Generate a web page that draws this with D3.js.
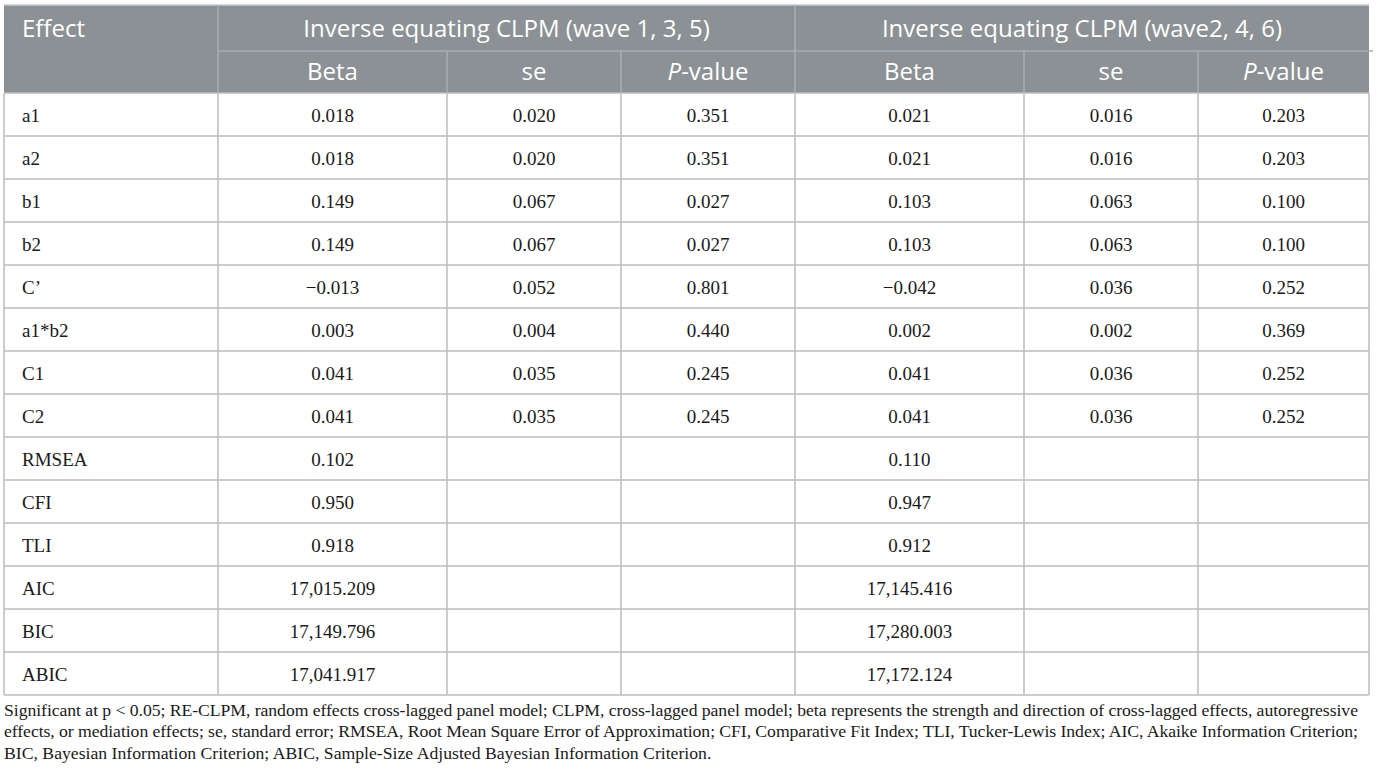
<!DOCTYPE html>
<html>
<head>
<meta charset="utf-8">
<script src="https://cdn.jsdelivr.net/npm/d3@7"></script>
<style>
  html, body { margin: 0; padding: 0; background: #fff; }
  svg { display: block; }
</style>
</head>
<body>
<div id="chart"></div>
<script>
// table content
const effects = ["a1", "a2", "b1", "b2", "C\u2019", "a1*b2", "C1", "C2", "RMSEA", "CFI", "TLI", "AIC", "BIC", "ABIC"];
const groups = ["Inverse equating CLPM (wave 1, 3, 5)", "Inverse equating CLPM (wave2, 4, 6)"];
const subHeaders = ["Beta", "se", "P-value"];
const beta1 = [0.018, 0.018, 0.149, 0.149, -0.013, 0.003, 0.041, 0.041, 0.102, 0.950, 0.918, 17015.209, 17149.796, 17041.917];
const se1 = [0.020, 0.020, 0.067, 0.067, 0.052, 0.004, 0.035, 0.035, null, null, null, null, null, null];
const p1 = [0.351, 0.351, 0.027, 0.027, 0.801, 0.440, 0.245, 0.245, null, null, null, null, null, null];
const beta2 = [0.021, 0.021, 0.103, 0.103, -0.042, 0.002, 0.041, 0.041, 0.110, 0.947, 0.912, 17145.416, 17280.003, 17172.124];
const se2 = [0.016, 0.016, 0.063, 0.063, 0.036, 0.002, 0.036, 0.036, null, null, null, null, null, null];
const p2 = [0.203, 0.203, 0.100, 0.100, 0.252, 0.369, 0.252, 0.252, null, null, null, null, null, null];
const footLines = [
  "Significant at p < 0.05; RE-CLPM, random effects cross-lagged panel model; CLPM, cross-lagged panel model; beta represents the strength and direction of cross-lagged effects, autoregressive",
  "effects, or mediation effects; se, standard error; RMSEA, Root Mean Square Error of Approximation; CFI, Comparative Fit Index; TLI, Tucker-Lewis Index; AIC, Akaike Information Criterion;",
  "BIC, Bayesian Information Criterion; ABIC, Sample-Size Adjusted Bayesian Information Criterion."
];

const width = 1377, height = 777;
const tLeft = 4, tRight = 1369, tTop = 5, headSplit = 51, bodyTop = 93, bodyBottom = 695;
const colWidths = [214, 229, 174, 174, 229, 174, 171];
const headBg = "#8b9194", headLine = "#a9aeb0", bodyLine = "#bdbdbd";
const sans = "'Open Sans', sans-serif", serif = "'Liberation Serif', 'Times New Roman', serif";

const colEdges = d3.cumsum([tLeft].concat(colWidths));
const colX = i => colEdges[i];
const colMid = i => (colEdges[i] + colEdges[i + 1]) / 2;
const y = d3.scaleBand().domain(d3.range(effects.length)).range([bodyTop, bodyBottom]);

const fmt = v => v == null ? "" : d3.format(Math.abs(v) >= 1000 ? ",.3f" : ".3f")(v);
const columns = [beta1, se1, p1, beta2, se2, p2];

const svg = d3.select("#chart").append("svg").attr("width", width).attr("height", height);

// header block
svg.append("rect").attr("x", tLeft).attr("y", tTop).attr("width", tRight - tLeft).attr("height", bodyTop - tTop).attr("fill", headBg);
const hl = svg.append("g").attr("stroke", headLine).attr("stroke-width", 1.5);
hl.append("line").attr("x1", tLeft).attr("x2", tRight).attr("y1", tTop).attr("y2", tTop).attr("stroke", "#c8cbcc");
hl.append("line").attr("x1", colX(1)).attr("x2", tRight + 4).attr("y1", headSplit).attr("y2", headSplit);
hl.selectAll("line.v1").data([1, 4]).join("line").attr("class", "v1")
  .attr("x1", colX).attr("x2", colX).attr("y1", tTop).attr("y2", bodyTop);
hl.selectAll("line.v2").data([2, 3, 5, 6]).join("line").attr("class", "v2")
  .attr("x1", colX).attr("x2", colX).attr("y1", headSplit).attr("y2", bodyTop);

svg.append("text").attr("x", tLeft + 18).attr("y", 37).attr("fill", "#fff")
  .attr("font-family", sans).attr("font-size", 24).text("Effect");
svg.selectAll("text.group").data(groups).join("text").attr("class", "group")
  .attr("x", (d, i) => (colX(1 + i * 3) + colX(4 + i * 3)) / 2).attr("y", 37)
  .attr("text-anchor", "middle").attr("fill", "#fff").attr("font-family", sans).attr("font-size", 24)
  .text(d => d);
const subs = svg.selectAll("text.sub").data(d3.range(6)).join("text").attr("class", "sub")
  .attr("x", i => colMid(i + 1)).attr("y", 80)
  .attr("text-anchor", "middle").attr("fill", "#fff").attr("font-family", sans).attr("font-size", 24);
subs.each(function (i) {
  const label = subHeaders[i % 3];
  const t = d3.select(this);
  if (label.startsWith("P-")) {
    t.append("tspan").attr("font-style", "italic").text("P");
    t.append("tspan").text(label.slice(1));
  } else t.text(label);
});

// body grid
const bl = svg.append("g").attr("stroke", bodyLine).attr("stroke-width", 1.5);
bl.selectAll("line.h").data(d3.range(effects.length + 1)).join("line").attr("class", "h")
  .attr("x1", tLeft).attr("x2", tRight)
  .attr("y1", i => i < effects.length ? y(i) : bodyBottom)
  .attr("y2", i => i < effects.length ? y(i) : bodyBottom);
bl.selectAll("line.v").data(d3.range(colEdges.length)).join("line").attr("class", "v")
  .attr("x1", colX).attr("x2", colX).attr("y1", bodyTop).attr("y2", bodyBottom);

// body text
const rows = svg.append("g").attr("font-family", serif).attr("font-size", 19).attr("fill", "#1a1a1a")
  .selectAll("g").data(effects).join("g")
  .attr("transform", (d, i) => `translate(0,${y(i) + y.bandwidth() / 2 + 7.5})`);
rows.append("text").attr("x", tLeft + 18).text(d => d);
rows.selectAll("text.val").data((d, i) => columns.map(c => c[i])).join("text").attr("class", "val")
  .attr("x", (d, j) => colMid(j + 1)).attr("text-anchor", "middle").text(fmt);

// footnote
svg.append("g").attr("font-family", serif).attr("font-size", 17.7).attr("fill", "#1a1a1a")
  .selectAll("text").data(footLines).join("text")
  .attr("x", tLeft).attr("y", (d, i) => 716 + i * 21.4)
  .attr("textLength", (d, i) => i < 2 ? 1354 : null)
  .attr("lengthAdjust", "spacing")
  .text(d => d);
</script>
</body>
</html>
